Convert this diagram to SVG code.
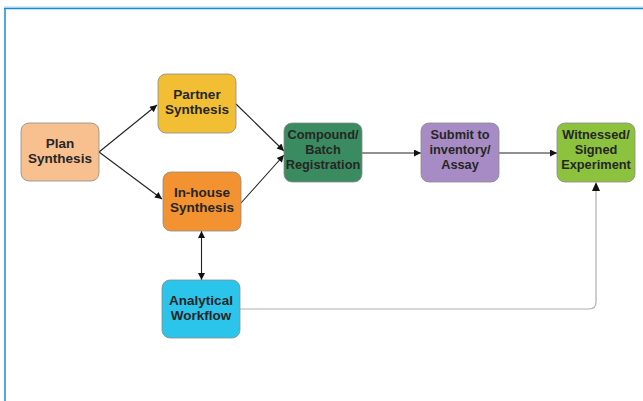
<svg xmlns="http://www.w3.org/2000/svg" width="643" height="401" viewBox="0 0 643 401">
<defs>
<marker id="ah" viewBox="0 0 10 10" refX="10" refY="5" markerWidth="9" markerHeight="7" markerUnits="userSpaceOnUse" orient="auto-start-reverse">
<path d="M0,0 L10,5 L0,10 z" fill="#111"/>
</marker>
</defs>
<style>
.box{stroke:#8a8a8a;stroke-width:0.8}
.t{font-family:"Liberation Sans",Arial,sans-serif;font-weight:bold;font-size:13.5px;fill:#262626;text-anchor:middle}
.t3{font-size:12.8px}
.c{fill:none;stroke:#222;stroke-width:1.1}
.g{fill:none;stroke:#b0b0b0;stroke-width:1.2}
</style>
<rect width="643" height="401" fill="#fff"/>
<g id="frame">
<line x1="4" y1="7" x2="643" y2="7" stroke="#a9d5f0" stroke-width="1"/>
<line x1="4" y1="8.5" x2="643" y2="8.5" stroke="#1a8ad4" stroke-width="1.5"/>
<line x1="5" y1="8" x2="5" y2="401" stroke="#1a8ad4" stroke-width="1.5"/>
</g>
<g id="connectors">
<line class="c" x1="99" y1="152" x2="157" y2="105" marker-end="url(#ah)"/>
<line class="c" x1="99" y1="152" x2="162" y2="199" marker-end="url(#ah)"/>
<line class="c" x1="236" y1="104" x2="284" y2="151" marker-end="url(#ah)"/>
<line class="c" x1="241" y1="203" x2="284" y2="155" marker-end="url(#ah)"/>
<line class="c" x1="362" y1="153" x2="421" y2="153" marker-end="url(#ah)"/>
<line class="c" x1="499" y1="153" x2="557" y2="153" marker-end="url(#ah)"/>
<line class="c" x1="201.5" y1="231" x2="201.5" y2="280" marker-start="url(#ah)" marker-end="url(#ah)"/>
<path class="g" d="M240,309 H589 Q596,309 596,302 V190"/>
<path d="M592,191 L596,182 L600,191 z" fill="#111"/>
</g>
<g id="plan">
<rect class="box" x="21" y="123" width="78" height="58" rx="8" fill="#f9c08f"/>
<text class="t" x="60" y="148">Plan</text>
<text class="t" x="60" y="163">Synthesis</text>
</g>
<g id="partner">
<rect class="box" x="158" y="74" width="78" height="59" rx="8" fill="#f2be34"/>
<text class="t" x="197" y="99">Partner</text>
<text class="t" x="197" y="114">Synthesis</text>
</g>
<g id="inhouse">
<rect class="box" x="163" y="172" width="78" height="59" rx="8" fill="#f39230"/>
<text class="t" x="202" y="197">In-house</text>
<text class="t" x="202" y="212">Synthesis</text>
</g>
<g id="compound">
<rect class="box" x="284" y="123" width="78" height="59" rx="8" fill="#3a8b5f"/>
<text class="t t3" x="323" y="139">Compound/</text>
<text class="t t3" x="323" y="154">Batch</text>
<text class="t t3" x="323" y="168.5">Registration</text>
</g>
<g id="submit">
<rect class="box" x="421" y="123" width="78" height="59" rx="8" fill="#a78bc4"/>
<text class="t t3" x="460" y="139">Submit to</text>
<text class="t t3" x="460" y="154">inventory/</text>
<text class="t t3" x="460" y="168.5">Assay</text>
</g>
<g id="witnessed">
<rect class="box" x="557" y="123" width="78" height="59" rx="8" fill="#8dc23f"/>
<text class="t t3" x="596" y="139">Witnessed/</text>
<text class="t t3" x="596" y="154">Signed</text>
<text class="t t3" x="596" y="168.5">Experiment</text>
</g>
<g id="analytical">
<rect class="box" x="162" y="280" width="78" height="58" rx="8" fill="#2bc4eb"/>
<text class="t" x="201" y="305">Analytical</text>
<text class="t" x="201" y="320">Workflow</text>
</g>
</svg>
